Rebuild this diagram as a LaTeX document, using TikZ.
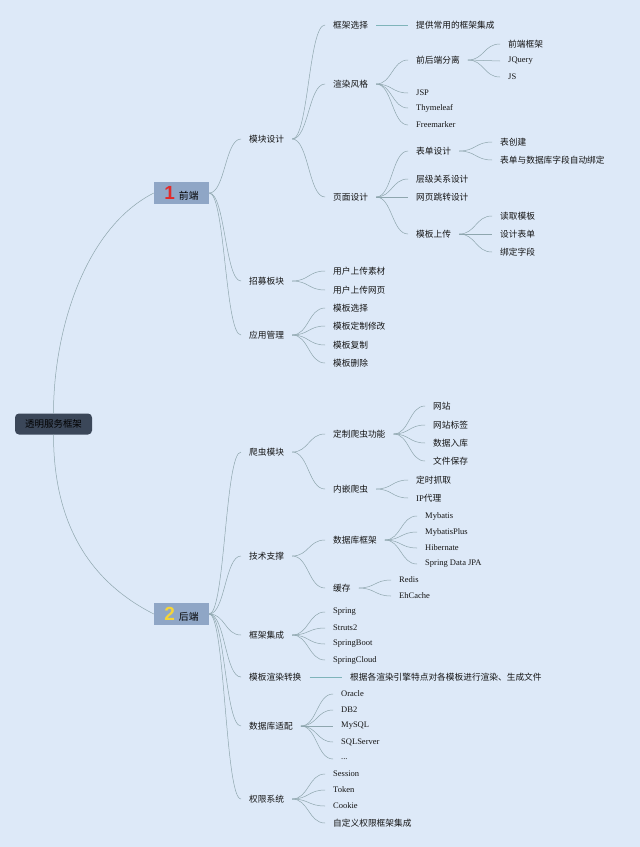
\documentclass[tikz,border=0pt]{standalone}
\usepackage{fontspec}
\setmainfont{Liberation Serif}
\newfontfamily\cjk{Noto Sans CJK SC}
\newfontfamily\numfont{Liberation Sans}
\usepackage{tikz}
\usetikzlibrary{calc}
\definecolor{bgblue}{HTML}{DDE9F8}
\definecolor{slate}{HTML}{3B4759}
\definecolor{hubblue}{HTML}{8FA6C6}
\definecolor{branchgrey}{HTML}{8EA6AE}
\definecolor{stemteal}{HTML}{7FB4BA}
\definecolor{inkdark}{HTML}{141414}
\definecolor{numred}{HTML}{E02B2B}
\definecolor{numyellow}{HTML}{F5D53A}

\tikzset{
  rootbox/.style={rectangle,rounded corners=4pt,fill=slate,text=black,
    font=\cjk\fontsize{9.5}{11}\selectfont,minimum width=77pt,minimum height=21pt,inner sep=0pt},
  hubbox/.style={rectangle,fill=hubblue,text=black,
    font=\cjk\fontsize{9.8}{11}\selectfont,minimum width=55pt,minimum height=22pt,inner sep=0pt},
  topic/.style={anchor=west,inner xsep=8pt,inner ysep=1pt,text=inkdark,
    font=\cjk\fontsize{8.7}{10}\selectfont},
  term/.style={anchor=west,inner xsep=8pt,inner ysep=1pt,text=inkdark,
    font=\fontsize{8.5}{10}\selectfont},
  branch/.style={draw=branchgrey,line width=0.5pt},
  stem/.style={draw=stemteal,line width=1pt},
  curvy/.style={to path={let \p1=(\tikztostart),\p2=(\tikztotarget),\n1={0.5*(\x2-\x1)} in
    (\p1) .. controls +(\n1,0) and +(-\n1,0) .. (\p2)}}
}

\begin{document}
\begin{tikzpicture}[x=1pt,y=-1pt]
\useasboundingbox (0,0) rectangle (640,847);
\fill[bgblue] (0,0) rectangle (640,847);

\node[rootbox] (root) at (53.5,424) {透明服务框架};
\node[hubbox] (fe) at (181.5,193) {\textcolor{numred}{\numfont\bfseries\fontsize{19}{19}\selectfont 1}\hspace{4pt}前端};
\node[hubbox] (be) at (181.5,614) {\textcolor{numyellow}{\numfont\bfseries\fontsize{19}{19}\selectfont 2}\hspace{4pt}后端};

% front end
\node[topic] (mkds) at (241,139) {模块设计};
\node[topic] (zmbk) at (241,281) {招募板块};
\node[topic] (yygl) at (241,335) {应用管理};

\node[topic] (kjxz) at (325,25) {框架选择};
\node[topic] (xrfg) at (325,84) {渲染风格};
\node[topic] (ymsj) at (325,197) {页面设计};

\node[topic] (jcms) at (408,25) {提供常用的框架集成};

\node[topic] (qhfl) at (408,60) {前后端分离};
\node[term] (jsp) at (408,93) {JSP};
\node[term] (thy) at (408,108) {Thymeleaf};
\node[term] (fmk) at (408,125) {Freemarker};

\node[topic] (qdkj) at (500,44) {前端框架};
\node[term] (jq) at (500,61) {JQuery};
\node[term] (js) at (500,77) {JS};

\node[topic] (bdsj) at (408,151) {表单设计};
\node[topic] (cjgx) at (408,179) {层级关系设计};
\node[topic] (wytz) at (408,197) {网页跳转设计};
\node[topic] (mbsc) at (408,234) {模板上传};

\node[topic] (bcj) at (492,142) {表创建};
\node[topic] (zdbd) at (492,160) {表单与数据库字段自动绑定};
\node[topic] (dqmb) at (492,216) {读取模板};
\node[topic] (sjbd) at (492,234) {设计表单};
\node[topic] (bdzd) at (492,252) {绑定字段};

\node[topic] (scsc) at (325,271) {用户上传素材};
\node[topic] (scwy) at (325,290) {用户上传网页};

\node[topic] (mbxz) at (325,308) {模板选择};
\node[topic] (mbdz) at (325,326) {模板定制修改};
\node[topic] (mbfz) at (325,345) {模板复制};
\node[topic] (mbsch) at (325,363) {模板删除};

% back end
\node[topic] (pcmk) at (241,452) {爬虫模块};
\node[topic] (jszc) at (241,556) {技术支撑};
\node[topic] (kjjc) at (241,635) {框架集成};
\node[topic] (mbxr) at (241,677) {模板渲染转换};
\node[topic] (sjsp) at (241,726) {数据库适配};
\node[topic] (qxxt) at (241,799) {权限系统};

\node[topic] (dzpc) at (325,434) {定制爬虫功能};
\node[topic] (nqpc) at (325,489) {内嵌爬虫};
\node[topic] (wz) at (425,406) {网站};
\node[topic] (wzbq) at (425,425) {网站标签};
\node[topic] (sjrk) at (425,443) {数据入库};
\node[topic] (wjbc) at (425,461) {文件保存};
\node[topic] (dszq) at (408,480) {定时抓取};
\node[topic] (ipdl) at (408,498) {{\rmfamily IP}代理};

\node[topic] (sjkk) at (325,540) {数据库框架};
\node[topic] (hc) at (325,588) {缓存};
\node[term] (mb) at (417,516) {Mybatis};
\node[term] (mbp) at (417,532) {MybatisPlus};
\node[term] (hib) at (417,548) {Hibernate};
\node[term] (jpa) at (417,564) {Spring Data JPA};
\node[term] (redis) at (391,580) {Redis};
\node[term] (ehc) at (391,596) {EhCache};

\node[term] (spr) at (325,612) {Spring};
\node[term] (sts) at (325,628) {Struts2};
\node[term] (sbt) at (325,644) {SpringBoot};
\node[term] (scl) at (325,660) {SpringCloud};

\node[topic] (xrwj) at (342,677) {根据各渲染引擎特点对各模板进行渲染、生成文件};

\node[term] (orc) at (333,694) {Oracle};
\node[term] (db2) at (333,710) {DB2};
\node[term] (mys) at (333,726) {MySQL};
\node[term] (sqs) at (333,742) {SQLServer};
\node[term] (etc) at (333,759) {...};

\node[term] (ses) at (325,774) {Session};
\node[term] (tok) at (325,790) {Token};
\node[term] (coo) at (325,806) {Cookie};
\node[topic] (zdy) at (325,823) {自定义权限框架集成};

\draw[branch] (root.north) .. controls +(0,-83) and +(-69,35) .. (fe.west);
\draw[branch] (root.south) .. controls +(0,83) and +(-69,-35) .. (be.west);

\foreach \c in {mkds,zmbk,yygl} \draw[branch] (fe.east) to[curvy] (\c.west);
\foreach \c in {pcmk,jszc,kjjc,mbxr,sjsp,qxxt} \draw[branch] (be.east) to[curvy] (\c.west);

\foreach \c in {kjxz,xrfg,ymsj} \draw[branch] (mkds.east) to[curvy] (\c.west);
\foreach \c in {qhfl,jsp,thy,fmk} \draw[branch] (xrfg.east) to[curvy] (\c.west);
\foreach \c in {qdkj,jq,js} \draw[branch] (qhfl.east) to[curvy] (\c.west);
\foreach \c in {bdsj,cjgx,wytz,mbsc} \draw[branch] (ymsj.east) to[curvy] (\c.west);
\foreach \c in {bcj,zdbd} \draw[branch] (bdsj.east) to[curvy] (\c.west);
\foreach \c in {dqmb,sjbd,bdzd} \draw[branch] (mbsc.east) to[curvy] (\c.west);
\foreach \c in {scsc,scwy} \draw[branch] (zmbk.east) to[curvy] (\c.west);
\foreach \c in {mbxz,mbdz,mbfz,mbsch} \draw[branch] (yygl.east) to[curvy] (\c.west);

\foreach \c in {dzpc,nqpc} \draw[branch] (pcmk.east) to[curvy] (\c.west);
\foreach \c in {wz,wzbq,sjrk,wjbc} \draw[branch] (dzpc.east) to[curvy] (\c.west);
\foreach \c in {dszq,ipdl} \draw[branch] (nqpc.east) to[curvy] (\c.west);
\foreach \c in {sjkk,hc} \draw[branch] (jszc.east) to[curvy] (\c.west);
\foreach \c in {mb,mbp,hib,jpa} \draw[branch] (sjkk.east) to[curvy] (\c.west);
\foreach \c in {redis,ehc} \draw[branch] (hc.east) to[curvy] (\c.west);
\foreach \c in {spr,sts,sbt,scl} \draw[branch] (kjjc.east) to[curvy] (\c.west);
\foreach \c in {orc,db2,mys,sqs,etc} \draw[branch] (sjsp.east) to[curvy] (\c.west);
\foreach \c in {ses,tok,coo,zdy} \draw[branch] (qxxt.east) to[curvy] (\c.west);

\draw[stem] (kjxz.east) -- (jcms.west);
\draw[stem] (mbxr.east) -- (xrwj.west);
\end{tikzpicture}
\end{document}
